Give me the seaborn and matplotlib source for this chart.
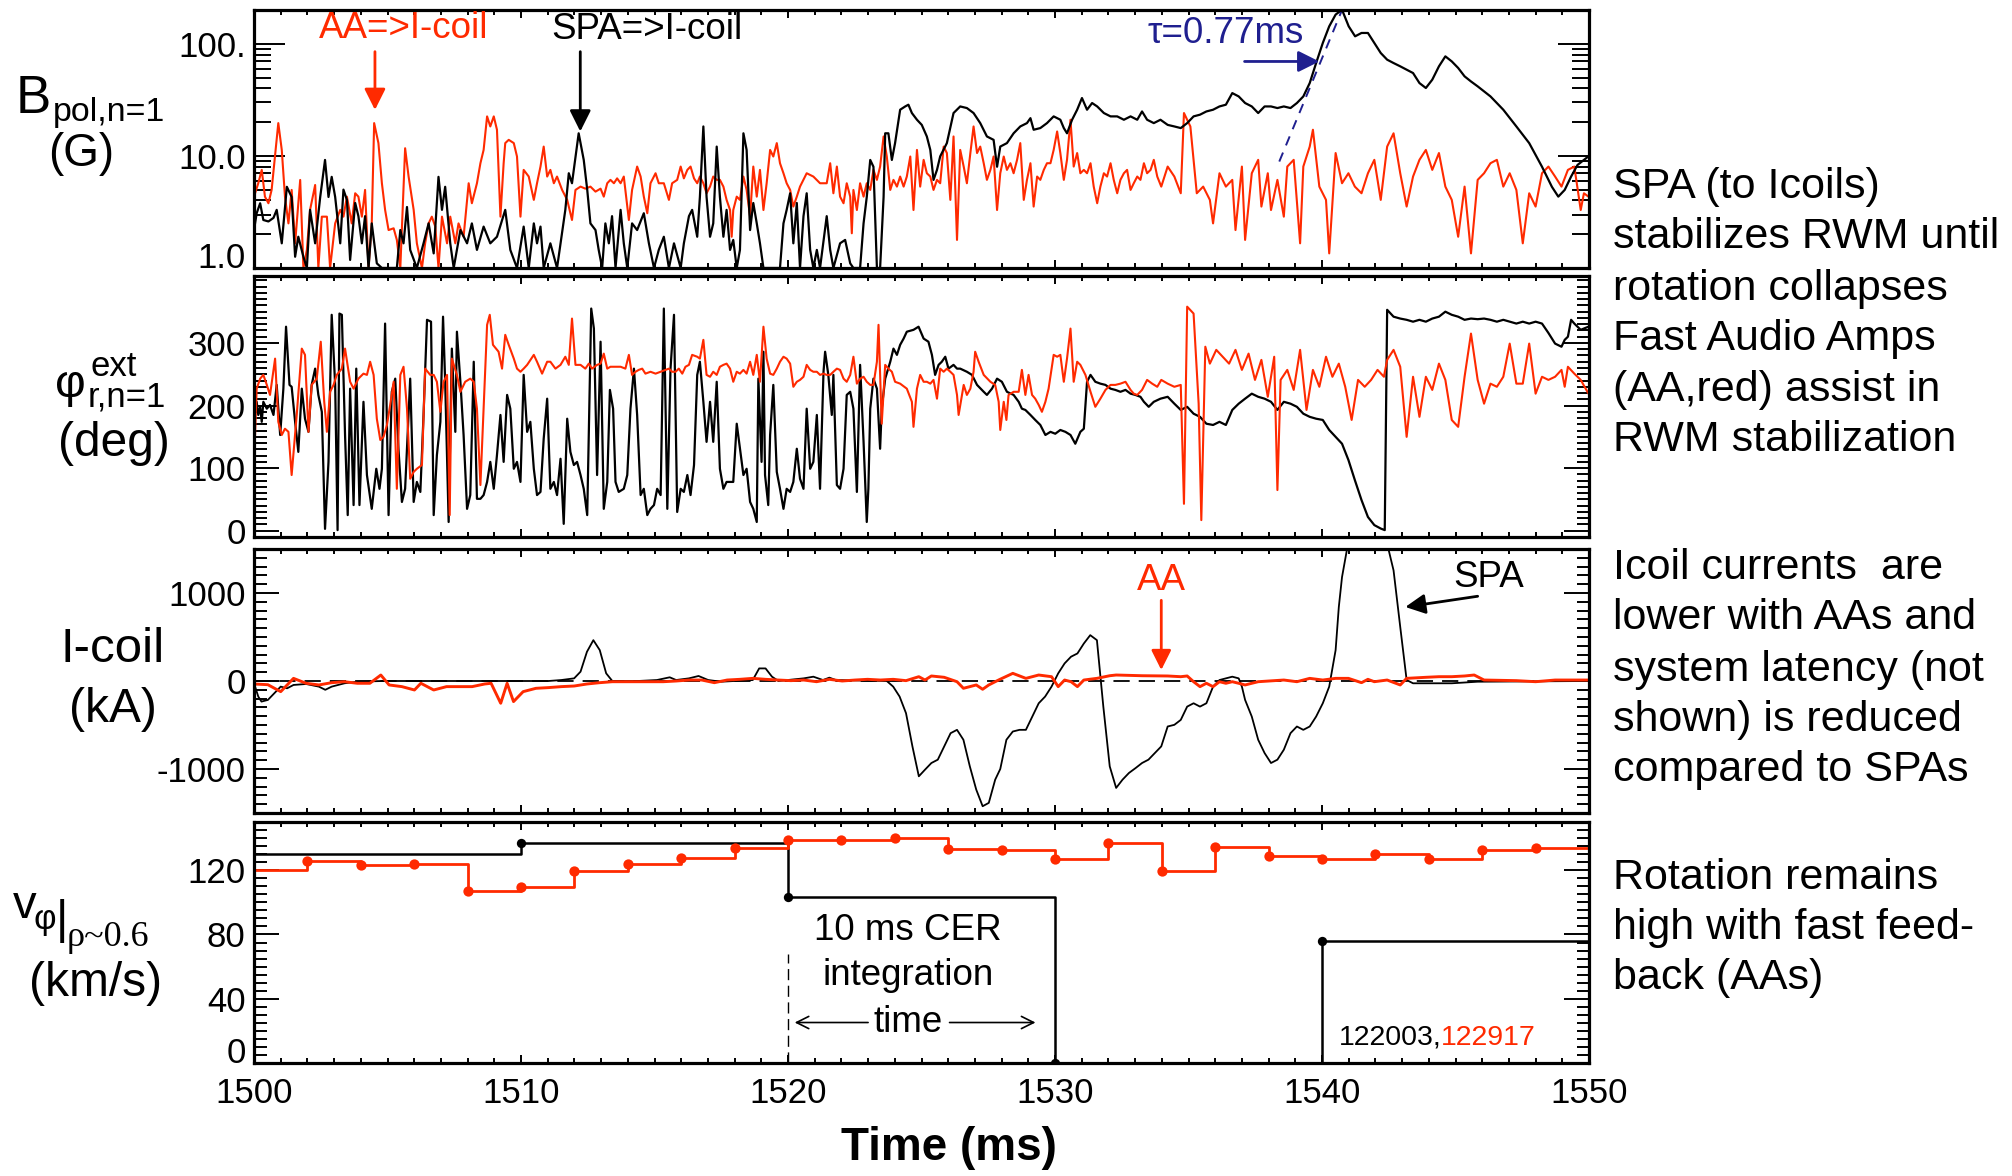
import numpy as np
import matplotlib
matplotlib.use("Agg")
import matplotlib.pyplot as plt
import seaborn as sns
from matplotlib import font_manager as fm
from matplotlib.ticker import MultipleLocator, FixedLocator, FixedFormatter, LogLocator, NullFormatter

# ---------------- data (time in ms) ----------------
BPOL_SPA = [
 (1500.00,2.18),(1500.10,3.08),(1500.23,3.78),(1500.35,2.68),(1500.54,2.6),(1500.73,2.8),(1500.85,3.3),
 (1501.04,1.66),(1501.23,5.3),(1501.41,4.3),(1501.54,1.26),(1501.66,1.9),(1501.85,1.26),(1501.98,1.0),
 (1502.10,3.3),(1502.29,1.66),(1502.48,4.3),(1502.66,9.2),(1502.79,4.3),(1502.91,6.5),(1503.04,4.3),
 (1503.23,1.66),(1503.35,5.0),(1503.48,4.05),(1503.60,1.18),(1503.79,3.8),(1503.91,2.9),(1504.04,1.66),
 (1504.16,2.9),(1504.29,1.0),(1504.41,2.5),(1504.60,1.1),(1504.79,1.0),(1505.35,1.0),(1505.48,2.18),
 (1505.60,1.66),(1505.73,3.5),(1505.85,1.45),(1506.10,1.0),(1506.35,1.66),(1506.54,2.5),(1506.73,1.35),
 (1506.91,6.5),(1507.04,3.3),(1507.16,5.3),(1507.35,1.66),(1507.48,1.0),(1507.73,2.18),(1507.98,1.66),
 (1508.16,2.5),(1508.35,1.45),(1508.60,2.34),(1508.85,1.66),(1509.10,1.9),(1509.41,3.3),(1509.60,1.45),
 (1509.85,1.0),(1510.10,2.34),(1510.29,1.0),(1510.48,2.5),(1510.60,1.66),(1510.73,2.34),(1510.85,1.0),
 (1511.10,1.66),(1511.35,1.0),(1511.66,3.3),(1511.79,7.0),(1511.91,5.7),(1512.16,15.9),(1512.35,9.2),
 (1512.48,5.0),(1512.60,2.5),(1512.79,2.18),(1512.91,1.45),(1513.04,1.0),(1513.16,2.5),(1513.29,1.66),
 (1513.41,2.9),(1513.54,1.0),(1513.73,3.3),(1513.85,1.66),(1513.98,1.0),(1514.16,2.5),(1514.35,2.18),
 (1514.60,3.08),(1514.79,1.66),(1514.98,1.0),(1515.16,1.45),(1515.35,1.9),(1515.54,1.0),(1515.73,1.66),
 (1515.98,1.0),(1516.10,1.66),(1516.29,2.9),(1516.41,3.3),(1516.60,1.9),(1516.70,4.3),(1516.83,18.3),
 (1516.95,4.3),(1517.08,1.9),(1517.20,2.5),(1517.33,12.1),(1517.45,4.3),(1517.58,1.9),(1517.70,3.3),
 (1517.83,1.45),(1517.95,1.78),(1518.08,1.0),(1518.20,1.45),(1518.33,15.9),(1518.45,11.3),(1518.58,2.18),
 (1518.70,3.8),(1518.83,2.5),(1518.95,1.66),(1519.08,1.0),(1519.70,1.0),(1519.83,2.5),(1519.95,3.3),
 (1520.08,4.64),(1520.20,1.66),(1520.33,3.8),(1520.45,1.0),(1520.58,2.9),(1520.70,4.64),(1520.83,1.45),
 (1520.95,1.0),(1521.08,1.45),(1521.20,1.0),(1521.45,2.9),(1521.58,1.45),(1521.70,1.0),(1521.95,1.66),
 (1522.14,1.78),(1522.33,1.1),(1522.45,1.0),(1522.70,1.0),(1522.83,2.5),(1522.95,4.3),(1523.08,9.2),
 (1523.20,8.0),(1523.33,1.0),(1523.45,1.0),(1523.58,4.3),(1523.64,15.9),(1523.76,15.9),(1523.89,9.2),
 (1524.01,13.0),(1524.20,25.8),(1524.39,27.6),(1524.51,28.6),(1524.64,24.1),(1524.83,21.0),(1525.01,18.9),
 (1525.20,14.9),(1525.33,11.3),(1525.45,6.1),(1525.58,7.5),(1525.70,9.9),(1525.95,13.0),(1526.20,24.1),
 (1526.45,27.6),(1526.70,26.7),(1526.95,24.1),(1527.20,19.6),(1527.45,14.9),(1527.70,13.9),(1527.83,8.0),
 (1527.95,12.1),(1528.20,13.0),(1528.45,15.9),(1528.70,18.3),(1528.95,19.6),(1529.08,21.7),(1529.20,17.1),
 (1529.45,17.7),(1529.70,19.6),(1529.95,22.5),(1530.20,21.0),(1530.33,17.7),(1530.45,15.9),(1530.64,21.0),
 (1530.83,25.8),(1531.01,32.8),(1531.20,25.8),(1531.39,29.6),(1531.58,27.6),(1531.83,24.1),(1532.08,22.5),
 (1532.33,22.5),(1532.58,21.0),(1532.83,22.5),(1533.08,21.0),(1533.26,24.9),(1533.45,21.0),(1533.70,19.6),
 (1533.95,21.0),(1534.22,18.9),(1534.47,18.3),(1534.71,17.7),(1534.95,19.6),(1535.19,22.5),(1535.43,23.3),
 (1535.67,24.9),(1535.92,25.8),(1536.16,27.6),(1536.40,28.6),(1536.64,36.3),(1536.88,33.9),(1537.12,29.6),
 (1537.37,27.6),(1537.61,24.1),(1537.85,27.6),(1538.09,27.6),(1538.33,26.7),(1538.57,27.6),(1538.82,26.7),
 (1539.06,29.6),(1539.30,33.9),(1539.54,44.6),(1539.78,67.3),(1540.03,101.6),(1540.27,143.0),(1540.51,182.0),
 (1540.75,201.0),(1541.00,143.0),(1541.24,116.5),(1541.48,124.8),(1541.72,124.8),(1541.96,101.6),(1542.20,82.7),
 (1542.44,72.1),(1542.68,67.3),(1542.93,62.9),(1543.17,58.7),(1543.41,54.8),(1543.65,44.6),(1543.89,40.3),
 (1544.13,47.8),(1544.38,62.9),(1544.62,77.2),(1544.86,69.6),(1545.10,60.8),(1545.34,51.2),(1545.58,46.1),
 (1545.83,41.7),(1546.31,33.9),(1546.79,25.8),(1547.28,18.3),(1547.76,13.0),(1548.24,8.0),(1548.61,5.3),
 (1548.85,4.33),(1549.09,4.97),(1549.33,6.54),(1549.57,8.3),(1549.81,9.2),(1549.98,9.9),
]

BPOL_AA = [
 (1500.00,4.33),(1500.16,5.7),(1500.29,7.5),(1500.41,4.33),(1500.54,3.78),(1500.66,4.97),(1500.91,19.6),
 (1501.04,11.3),(1501.16,4.33),(1501.29,2.5),(1501.41,4.97),(1501.54,1.66),(1501.73,6.1),(1501.85,1.0),
 (1501.98,1.45),(1502.10,3.3),(1502.29,5.5),(1502.41,1.0),(1502.54,2.87),(1502.73,2.87),(1502.85,1.0),
 (1503.04,2.5),(1503.23,3.3),(1503.35,2.87),(1503.48,4.33),(1503.66,2.5),(1503.79,4.64),(1503.91,4.33),
 (1504.04,2.87),(1504.16,4.97),(1504.29,1.0),(1504.41,2.5),(1504.50,19.6),(1504.66,13.0),(1504.79,5.7),
 (1504.91,3.3),(1505.04,2.18),(1505.23,2.26),(1505.35,1.78),(1505.48,1.0),(1505.66,11.7),(1505.79,6.54),
 (1505.98,3.3),(1506.10,1.66),(1506.29,1.0),(1506.41,1.66),(1506.54,2.5),(1506.66,2.87),(1506.79,2.34),
 (1506.91,1.0),(1507.04,2.87),(1507.23,1.66),(1507.35,2.87),(1507.54,1.66),(1507.66,2.5),(1507.85,1.9),
 (1508.04,5.7),(1508.16,3.78),(1508.35,5.7),(1508.48,8.6),(1508.60,11.3),(1508.73,22.5),(1508.85,18.3),
 (1508.98,22.5),(1509.10,17.1),(1509.23,2.87),(1509.35,8.6),(1509.41,13.0),(1509.54,13.9),(1509.73,13.0),
 (1509.85,9.87),(1509.98,2.87),(1510.10,7.5),(1510.29,6.54),(1510.48,4.05),(1510.60,5.7),(1510.73,8.03),
 (1510.85,12.1),(1510.98,6.54),(1511.10,7.5),(1511.23,5.7),(1511.35,6.54),(1511.54,4.97),(1511.73,4.05),
 (1511.91,2.68),(1512.04,4.97),(1512.23,5.32),(1512.41,5.1),(1512.60,5.32),(1512.79,4.8),(1512.98,5.1),
 (1513.10,4.33),(1513.23,5.7),(1513.35,6.11),(1513.48,5.7),(1513.60,6.3),(1513.73,5.7),(1513.85,6.54),
 (1514.04,2.68),(1514.16,4.97),(1514.35,8.03),(1514.48,6.54),(1514.60,4.33),(1514.73,3.08),(1514.85,5.7),
 (1515.04,7.0),(1515.16,5.7),(1515.35,5.7),(1515.54,4.05),(1515.66,5.7),(1515.85,6.11),(1515.98,8.03),
 (1516.10,6.3),(1516.23,7.5),(1516.35,8.03),(1516.48,6.3),(1516.60,5.7),(1516.70,6.54),(1516.83,5.7),
 (1516.95,4.64),(1517.08,5.32),(1517.20,6.54),(1517.33,6.11),(1517.45,6.11),(1517.58,5.32),(1517.70,4.05),
 (1517.83,3.29),(1517.89,1.9),(1517.95,3.29),(1518.08,4.33),(1518.20,4.05),(1518.33,6.54),(1518.45,4.97),
 (1518.58,2.87),(1518.70,8.03),(1518.83,4.33),(1518.95,7.5),(1519.08,3.29),(1519.20,5.7),(1519.33,11.3),
 (1519.45,9.87),(1519.58,13.0),(1519.70,8.6),(1519.83,7.0),(1519.95,5.7),(1520.08,4.97),(1520.20,3.53),
 (1520.33,4.33),(1520.45,5.32),(1520.70,7.0),(1520.95,6.54),(1521.20,5.7),(1521.45,5.7),(1521.58,8.6),
 (1521.70,4.64),(1521.83,8.03),(1521.95,4.33),(1522.08,3.78),(1522.20,5.7),(1522.33,4.33),(1522.39,2.04),
 (1522.45,4.97),(1522.58,3.29),(1522.70,5.7),(1522.83,4.33),(1522.95,5.7),(1523.08,4.97),(1523.20,7.5),
 (1523.33,6.11),(1523.45,8.03),(1523.58,14.9),(1523.70,9.87),(1523.83,4.97),(1523.95,6.11),(1524.08,5.32),
 (1524.20,6.54),(1524.33,5.32),(1524.45,6.54),(1524.58,9.87),(1524.70,3.29),(1524.83,11.3),(1524.95,5.32),
 (1525.08,9.22),(1525.20,7.0),(1525.33,6.54),(1525.45,4.97),(1525.58,6.11),(1525.70,5.7),(1525.83,12.1),
 (1525.95,10.6),(1526.08,4.05),(1526.20,14.9),(1526.33,1.78),(1526.45,11.3),(1526.58,8.03),(1526.70,5.7),
 (1526.83,10.6),(1526.95,18.3),(1527.08,10.6),(1527.20,12.1),(1527.33,8.6),(1527.45,6.11),(1527.58,7.5),
 (1527.70,9.87),(1527.83,3.29),(1527.95,7.0),(1528.08,9.87),(1528.20,7.5),(1528.33,8.6),(1528.45,7.0),
 (1528.58,9.22),(1528.70,13.0),(1528.83,4.05),(1528.95,6.11),(1529.08,8.6),(1529.20,3.53),(1529.33,6.54),
 (1529.45,6.11),(1529.58,7.5),(1529.70,8.6),(1529.83,8.6),(1529.95,11.3),(1530.08,16.5),(1530.20,10.6),
 (1530.33,6.11),(1530.45,9.22),(1530.58,21.0),(1530.70,8.03),(1530.83,10.6),(1530.95,7.0),(1531.08,7.5),
 (1531.20,7.0),(1531.33,8.6),(1531.45,5.32),(1531.58,3.78),(1531.70,5.32),(1531.83,7.0),(1531.95,6.54),
 (1532.08,8.6),(1532.20,6.11),(1532.33,4.64),(1532.45,6.11),(1532.58,7.0),(1532.70,7.5),(1532.83,4.97),
 (1532.95,5.7),(1533.08,6.54),(1533.20,6.11),(1533.33,8.6),(1533.45,7.0),(1533.58,7.5),(1533.70,9.22),
 (1533.83,6.54),(1533.98,5.32),(1534.22,8.03),(1534.47,6.54),(1534.71,4.64),(1534.83,24.1),(1535.07,18.3),
 (1535.31,4.64),(1535.55,5.32),(1535.80,4.05),(1535.92,2.5),(1536.16,7.0),(1536.40,5.32),(1536.64,6.11),
 (1536.76,2.18),(1537.00,8.03),(1537.12,1.78),(1537.37,7.0),(1537.61,9.22),(1537.73,3.53),(1537.97,7.0),
 (1538.09,3.29),(1538.33,6.11),(1538.57,2.87),(1538.70,8.03),(1538.94,9.22),(1539.18,1.66),(1539.30,8.03),
 (1539.54,12.1),(1539.66,17.1),(1539.90,5.32),(1540.15,4.05),(1540.27,1.35),(1540.51,10.6),(1540.75,5.7),
 (1540.99,7.0),(1541.23,5.32),(1541.48,4.64),(1541.72,7.0),(1541.96,9.22),(1542.20,4.05),(1542.44,12.1),
 (1542.68,15.9),(1542.93,7.0),(1543.17,3.53),(1543.41,6.54),(1543.65,9.22),(1543.89,11.3),(1544.13,7.5),
 (1544.38,10.6),(1544.62,5.32),(1544.86,4.05),(1545.10,1.9),(1545.34,5.32),(1545.58,1.35),(1545.83,6.11),
 (1546.07,7.0),(1546.31,8.6),(1546.55,9.22),(1546.79,5.32),(1547.03,7.0),(1547.28,4.97),(1547.52,1.66),
 (1547.76,4.64),(1548.00,3.53),(1548.24,7.0),(1548.48,8.03),(1548.73,6.54),(1548.97,5.32),(1549.21,7.5),
 (1549.45,8.03),(1549.69,3.29),(1549.81,4.64),(1549.98,4.33),
]

PHI_SPA = [
 (1500.00,195),(1500.10,206),(1500.16,185),(1500.23,198),(1500.29,174),(1500.35,206),(1500.48,195),
 (1500.60,201),(1500.73,185),(1500.85,233),(1500.98,153),(1501.10,227),(1501.20,326),(1501.33,233),
 (1501.41,230),(1501.54,174),(1501.66,126),(1501.79,227),(1501.91,179),(1502.04,158),(1502.16,233),
 (1502.29,259),(1502.41,217),(1502.54,190),(1502.66,3),(1502.79,110),(1502.91,345),(1503.04,233),
 (1503.13,1),(1503.20,347),(1503.29,345),(1503.41,153),(1503.51,25),(1503.60,227),(1503.73,41),
 (1503.83,259),(1503.95,41),(1504.10,206),(1504.23,89),(1504.41,35),(1504.58,99),(1504.70,67),
 (1504.79,99),(1504.91,331),(1505.04,25),(1505.16,222),(1505.29,243),(1505.41,131),(1505.54,46),
 (1505.66,67),(1505.85,243),(1505.98,46),(1506.10,78),(1506.23,62),(1506.35,185),(1506.48,337),
 (1506.63,334),(1506.73,25),(1506.85,121),(1506.98,174),(1507.08,342),(1507.16,238),(1507.29,14),
 (1507.41,291),(1507.54,158),(1507.60,318),(1507.73,238),(1507.85,153),(1507.98,35),(1508.10,57),
 (1508.23,270),(1508.35,51),(1508.48,51),(1508.60,57),(1508.73,78),(1508.85,110),(1508.98,67),
 (1509.10,121),(1509.23,185),(1509.35,110),(1509.48,217),(1509.60,195),(1509.73,99),(1509.85,110),
 (1509.98,78),(1510.10,249),(1510.23,158),(1510.35,174),(1510.48,99),(1510.60,57),(1510.73,62),
 (1510.85,147),(1510.98,211),(1511.10,67),(1511.23,78),(1511.35,57),(1511.48,115),(1511.60,11),
 (1511.73,179),(1511.85,126),(1511.98,105),(1512.10,110),(1512.23,89),(1512.35,67),(1512.48,25),
 (1512.63,355),(1512.73,323),(1512.85,89),(1512.98,302),(1513.10,35),(1513.23,78),(1513.33,225),
 (1513.45,195),(1513.54,78),(1513.66,62),(1513.85,67),(1513.98,89),(1514.10,195),(1514.23,259),
 (1514.35,185),(1514.48,57),(1514.60,67),(1514.73,25),(1514.85,35),(1514.98,41),(1515.10,67),
 (1515.23,57),(1515.35,355),(1515.48,35),(1515.60,259),(1515.73,345),(1515.85,30),(1515.98,67),
 (1516.10,62),(1516.23,89),(1516.35,57),(1516.48,105),(1516.60,249),(1516.70,270),(1516.83,206),
 (1516.95,142),(1517.08,206),(1517.20,142),(1517.33,238),(1517.45,99),(1517.58,67),(1517.70,78),
 (1517.95,78),(1518.08,171),(1518.20,131),(1518.33,89),(1518.45,99),(1518.58,46),(1518.70,35),
 (1518.83,14),(1518.89,243),(1519.01,110),(1519.08,286),(1519.14,89),(1519.26,41),(1519.33,153),
 (1519.45,233),(1519.58,94),(1519.70,67),(1519.83,35),(1519.95,67),(1520.08,62),(1520.20,78),
 (1520.33,131),(1520.45,83),(1520.58,67),(1520.70,195),(1520.83,99),(1520.95,110),(1521.08,185),
 (1521.20,67),(1521.33,254),(1521.39,286),(1521.51,249),(1521.64,185),(1521.70,249),(1521.83,73),
 (1521.95,67),(1522.08,99),(1522.20,217),(1522.33,222),(1522.45,195),(1522.58,62),(1522.70,265),
 (1522.83,142),(1522.95,14),(1523.01,67),(1523.08,195),(1523.20,243),(1523.33,227),(1523.45,131),
 (1523.51,195),(1523.64,243),(1523.83,270),(1523.95,291),(1524.08,281),(1524.20,297),(1524.33,307),
 (1524.45,318),(1524.70,321),(1524.89,326),(1525.08,307),(1525.26,302),(1525.39,281),(1525.51,249),
 (1525.64,265),(1525.76,270),(1525.89,278),(1526.01,259),(1526.20,265),(1526.33,259),(1526.45,259),
 (1526.70,254),(1526.89,249),(1527.08,233),(1527.33,222),(1527.45,217),(1527.64,227),(1527.83,243),
 (1528.01,238),(1528.20,222),(1528.45,217),(1528.64,206),(1528.76,195),(1528.89,193),(1529.08,185),
 (1529.26,177),(1529.45,169),(1529.64,153),(1529.83,158),(1530.01,155),(1530.20,161),(1530.39,158),
 (1530.58,153),(1530.76,139),(1530.95,158),(1531.08,163),(1531.20,238),(1531.33,249),(1531.51,238),
 (1531.70,235),(1531.89,233),(1532.08,227),(1532.26,225),(1532.45,222),(1532.64,225),(1532.83,219),
 (1533.01,217),(1533.20,214),(1533.33,206),(1533.51,198),(1533.70,206),(1533.95,211),(1534.22,214),
 (1534.47,203),(1534.71,193),(1534.95,198),(1535.19,187),(1535.43,182),(1535.67,171),(1535.92,169),
 (1536.16,174),(1536.40,169),(1536.64,193),(1536.88,203),(1537.12,211),(1537.37,219),(1537.61,214),
 (1537.85,211),(1538.09,206),(1538.33,193),(1538.57,206),(1538.82,203),(1539.06,198),(1539.30,187),
 (1539.54,182),(1539.78,179),(1540.03,177),(1540.27,161),(1540.51,150),(1540.75,139),(1540.99,113),
 (1541.23,81),(1541.48,49),(1541.72,22),(1541.96,9),(1542.20,3.5),(1542.35,1),(1542.44,353),
 (1542.68,342),(1542.93,339),(1543.17,337),(1543.41,334),(1543.65,337),(1543.89,334),(1544.13,339),
 (1544.38,342),(1544.62,350),(1544.86,345),(1545.10,342),(1545.34,337),(1545.58,339),(1545.83,338),
 (1546.07,339),(1546.31,337),(1546.55,334),(1546.79,337),(1547.03,334),(1547.28,331),(1547.52,334),
 (1547.76,331),(1548.00,334),(1548.24,331),(1548.48,316),(1548.73,299),(1548.97,294),(1549.09,305),
 (1549.21,310),(1549.33,337),(1549.45,331),(1549.69,321),(1549.98,326),
]

PHI_AA = [
 (1500.00,105),(1500.10,227),(1500.23,243),(1500.35,249),(1500.48,233),(1500.60,217),(1500.79,275),
 (1500.91,174),(1501.04,153),(1501.16,163),(1501.29,158),(1501.41,89),(1501.60,185),(1501.79,291),
 (1501.91,281),(1502.04,158),(1502.16,233),(1502.35,243),(1502.50,302),(1502.63,206),(1502.73,158),
 (1502.85,222),(1502.98,233),(1503.10,249),(1503.29,259),(1503.41,291),(1503.60,238),(1503.73,227),
 (1503.91,243),(1504.10,251),(1504.23,249),(1504.35,270),(1504.48,249),(1504.60,179),(1504.73,145),
 (1504.85,150),(1504.98,169),(1505.10,201),(1505.23,238),(1505.35,67),(1505.48,249),(1505.60,262),
 (1505.73,195),(1505.85,83),(1505.98,94),(1506.10,99),(1506.29,105),(1506.41,259),(1506.60,249),
 (1506.73,249),(1506.85,238),(1506.98,190),(1507.10,238),(1507.23,249),(1507.33,25),(1507.41,275),
 (1507.60,249),(1507.73,222),(1507.91,238),(1508.10,243),(1508.23,238),(1508.35,195),(1508.48,73),
 (1508.60,195),(1508.73,329),(1508.83,345),(1508.95,297),(1509.16,286),(1509.29,259),(1509.41,313),
 (1509.54,297),(1509.73,275),(1509.85,259),(1509.98,254),(1510.10,259),(1510.23,265),(1510.48,281),
 (1510.60,270),(1510.79,251),(1510.98,270),(1511.10,270),(1511.29,259),(1511.48,265),(1511.66,278),
 (1511.79,265),(1511.91,339),(1512.04,265),(1512.23,265),(1512.41,259),(1512.54,267),(1512.66,259),
 (1512.85,265),(1512.98,267),(1513.10,283),(1513.23,259),(1513.35,262),(1513.54,262),(1513.73,262),
 (1513.91,259),(1514.04,281),(1514.16,249),(1514.29,254),(1514.41,257),(1514.54,259),(1514.66,251),
 (1514.85,254),(1515.04,251),(1515.23,254),(1515.41,257),(1515.54,259),(1515.66,254),(1515.79,254),
 (1515.91,259),(1516.04,251),(1516.16,262),(1516.29,265),(1516.41,281),(1516.60,278),(1516.70,275),
 (1516.83,305),(1516.95,249),(1517.08,246),(1517.20,254),(1517.33,249),(1517.45,262),(1517.58,265),
 (1517.70,267),(1517.83,259),(1517.95,238),(1518.08,254),(1518.20,251),(1518.33,257),(1518.45,251),
 (1518.58,270),(1518.70,249),(1518.83,281),(1518.95,238),(1519.08,326),(1519.20,275),(1519.33,251),
 (1519.45,249),(1519.58,259),(1519.70,270),(1519.83,278),(1519.95,275),(1520.08,267),(1520.20,230),
 (1520.33,238),(1520.45,241),(1520.58,246),(1520.70,265),(1520.83,257),(1520.95,254),(1521.08,254),
 (1521.20,249),(1521.33,251),(1521.45,249),(1521.58,249),(1521.70,254),(1521.83,259),(1521.95,257),
 (1522.08,243),(1522.20,238),(1522.33,249),(1522.45,278),(1522.58,235),(1522.70,243),(1522.83,246),
 (1522.95,238),(1523.08,233),(1523.20,233),(1523.33,270),(1523.39,329),(1523.51,171),(1523.64,265),
 (1523.76,259),(1523.89,254),(1524.01,238),(1524.20,235),(1524.45,227),(1524.64,206),(1524.70,166),
 (1524.83,227),(1524.95,249),(1525.08,238),(1525.20,238),(1525.33,235),(1525.45,241),(1525.58,211),
 (1525.70,259),(1525.83,254),(1525.95,259),(1526.08,254),(1526.20,249),(1526.33,217),(1526.39,185),
 (1526.58,233),(1526.70,217),(1526.83,227),(1526.95,254),(1527.01,286),(1527.14,270),(1527.33,249),
 (1527.58,238),(1527.76,233),(1527.89,206),(1527.95,161),(1528.08,206),(1528.18,177),(1528.26,217),
 (1528.45,222),(1528.64,222),(1528.76,257),(1528.89,217),(1529.01,249),(1529.14,217),(1529.26,211),
 (1529.39,201),(1529.51,190),(1529.64,206),(1529.76,227),(1529.95,281),(1530.08,278),(1530.20,281),
 (1530.33,238),(1530.45,275),(1530.58,323),(1530.70,238),(1530.83,270),(1530.95,265),(1531.14,249),
 (1531.33,222),(1531.51,198),(1531.70,211),(1531.89,225),(1532.08,233),(1532.26,233),(1532.45,235),
 (1532.64,238),(1532.83,225),(1532.95,219),(1533.08,217),(1533.26,225),(1533.45,241),(1533.64,235),
 (1533.83,230),(1533.98,241),(1534.22,235),(1534.47,230),(1534.71,233),(1534.83,43),(1534.95,358),
 (1535.19,347),(1535.38,203),(1535.48,17),(1535.63,294),(1535.80,267),(1536.04,289),(1536.28,278),
 (1536.52,267),(1536.76,289),(1537.00,257),(1537.25,283),(1537.49,241),(1537.73,273),(1537.97,214),
 (1538.21,278),(1538.33,65),(1538.45,241),(1538.70,257),(1538.94,225),(1539.18,289),(1539.42,193),
 (1539.66,257),(1539.90,230),(1540.15,278),(1540.39,246),(1540.63,267),(1540.87,230),(1541.11,177),
 (1541.35,241),(1541.60,230),(1541.84,241),(1542.08,257),(1542.32,246),(1542.44,273),(1542.68,289),
 (1542.93,262),(1543.17,150),(1543.41,246),(1543.65,182),(1543.89,246),(1544.13,225),(1544.38,267),
 (1544.62,241),(1544.86,177),(1545.10,166),(1545.34,246),(1545.58,315),(1545.83,241),(1546.07,203),
 (1546.31,235),(1546.55,230),(1546.79,246),(1547.03,299),(1547.28,235),(1547.52,235),(1547.76,299),
 (1548.00,219),(1548.24,246),(1548.48,241),(1548.73,246),(1548.97,257),(1549.09,230),(1549.21,262),
 (1549.45,251),(1549.69,241),(1549.98,219),
]

ICOIL_SPA = [
 (1500.00,-26),(1500.16,-177),(1500.28,-234),(1500.52,-215),(1500.76,-140),(1501.00,-64),(1501.24,-83),
 (1501.48,-45),(1501.95,-34),(1502.43,-64),(1502.67,-100),(1502.91,-64),(1503.39,-26),(1503.87,-8),
 (1504.82,0),(1507.21,0),(1509.60,0),(1511.03,0),(1511.51,11),(1511.99,30),(1512.23,106),(1512.47,332),
 (1512.71,464),(1512.95,351),(1513.19,87),(1513.42,0),(1514.38,0),(1515.09,11),(1515.57,42),(1515.81,11),
 (1516.29,30),(1516.65,57),(1517.01,11),(1517.49,-8),(1518.68,11),(1518.92,143),(1519.16,143),(1519.40,49),
 (1519.64,0),(1520.59,30),(1520.95,49),(1521.31,11),(1521.55,38),(1521.79,11),(1523.70,0),(1523.94,-64),
 (1524.18,-177),(1524.42,-366),(1524.66,-743),(1524.90,-1083),(1525.13,-1008),(1525.37,-932),(1525.61,-894),
 (1525.85,-743),(1526.09,-593),(1526.33,-555),(1526.57,-668),(1526.81,-970),(1527.05,-1234),(1527.29,-1423),
 (1527.52,-1385),(1527.76,-1121),(1527.95,-1000),(1528.18,-668),(1528.42,-574),(1528.67,-555),(1528.91,-555),
 (1529.15,-404),(1529.39,-253),(1529.63,-177),(1529.87,-64),(1530.12,87),(1530.36,200),(1530.60,276),
 (1530.84,313),(1531.08,426),(1531.32,521),(1531.57,464),(1531.81,-291),(1532.05,-970),(1532.29,-1215),
 (1532.53,-1121),(1532.77,-1045),(1533.02,-989),(1533.26,-932),(1533.50,-894),(1533.74,-819),(1533.98,-743),
 (1534.22,-517),(1534.47,-498),(1534.71,-442),(1534.95,-291),(1535.19,-253),(1535.43,-291),(1535.67,-253),
 (1535.92,-64),(1536.16,11),(1536.40,30),(1536.64,49),(1536.88,30),(1537.00,-64),(1537.12,-215),
 (1537.37,-404),(1537.61,-668),(1537.85,-819),(1538.09,-932),(1538.33,-894),(1538.57,-781),(1538.82,-593),
 (1539.06,-517),(1539.30,-555),(1539.54,-517),(1539.78,-404),(1540.03,-253),(1540.27,-64),(1540.51,351),
 (1540.63,842),(1540.75,1181),(1540.95,1520),(1541.23,1560),(1541.48,1540),(1541.72,1560),(1541.96,1550),
 (1542.20,1530),(1542.44,1560),(1542.68,1257),(1542.93,615),(1543.17,11),(1543.41,-26),(1544.86,-26),
 (1545.83,-8),(1549.69,0),(1550.00,0),
]

ICOIL_AA = [
 (1500.00,-34),(1500.52,-42),(1501.00,-121),(1501.48,30),(1501.95,-26),(1502.43,-45),(1502.91,-19),
 (1503.39,-8),(1503.87,-26),(1504.34,-26),(1504.75,68),(1505.06,-45),(1505.54,-64),(1506.01,-102),
 (1506.25,-26),(1506.73,-102),(1507.21,-64),(1507.69,-64),(1508.17,-64),(1508.64,-34),(1508.88,-26),
 (1509.24,-253),(1509.48,-26),(1509.72,-234),(1510.08,-121),(1510.56,-83),(1511.03,-75),(1511.51,-64),
 (1511.99,-57),(1512.47,-34),(1512.95,-19),(1513.42,-8),(1514.38,-8),(1515.33,-8),(1515.81,0),
 (1516.29,11),(1516.77,11),(1517.24,-19),(1517.72,11),(1518.20,19),(1518.68,30),(1519.16,19),
 (1519.64,11),(1520.11,4),(1520.59,11),(1521.07,-8),(1521.55,19),(1522.03,0),(1522.51,11),(1522.98,19),
 (1523.46,11),(1523.94,19),(1524.42,4),(1524.90,49),(1525.13,11),(1525.37,57),(1525.85,42),(1526.33,-8),
 (1526.57,-83),(1526.81,-64),(1527.05,-45),(1527.29,-94),(1527.52,-45),(1527.76,-8),(1527.94,19),
 (1528.42,87),(1528.91,30),(1529.39,68),(1529.87,49),(1530.12,-64),(1530.36,11),(1530.60,-8),
 (1530.84,-64),(1531.08,11),(1531.57,30),(1532.05,60),(1532.29,68),(1533.26,60),(1534.22,57),
 (1534.71,49),(1534.95,57),(1535.19,-8),(1535.43,-64),(1535.67,-26),(1535.92,-64),(1536.16,-8),
 (1536.40,-26),(1536.64,-8),(1536.88,-26),(1537.12,-45),(1537.37,-26),(1537.61,-8),(1538.57,11),
 (1539.06,-8),(1539.54,30),(1540.03,11),(1540.51,30),(1540.99,30),(1541.48,-19),(1541.72,19),
 (1541.96,-8),(1542.44,11),(1542.93,-45),(1543.17,30),(1543.89,42),(1544.38,49),(1544.86,49),
 (1545.34,57),(1545.70,68),(1546.07,11),(1547.28,4),(1548.00,-8),(1548.73,11),(1549.98,11),
]

VROT_SPA_T = [1500, 1510, 1520, 1530, 1540, 1550]
VROT_SPA_V = [130.0, 136.7, 103.3, 0.0, 76.0, 76.0]
VROT_AA_T = [1500, 1502, 1504, 1506, 1508, 1510, 1512, 1514, 1516, 1518, 1520, 1522, 1524,
             1526, 1528, 1530, 1532, 1534, 1536, 1538, 1540, 1542, 1544, 1546, 1548, 1550]
VROT_AA_V = [120.0, 125.8, 123.1, 123.7, 107.0, 109.6, 119.4, 123.7, 127.7, 134.0, 139.0, 139.0, 139.8,
             133.0, 132.5, 126.7, 136.7, 119.4, 134.6, 128.7, 126.7, 130.0, 127.0, 132.5, 134.0, 134.0]

TAU_FIT_T = [1538.4, 1540.75]
TAU_FIT_V = [8.9, 200.0]

X_TICKS = [1500, 1510, 1520, 1530, 1540, 1550]
BPOL_TICKS = [1, 10, 100]
BPOL_TICK_LABELS = ["1.0", "10.0", "100."]

RIGHT_NOTES = [
    ("SPA (to Icoils)", 187), ("stabilizes RWM until", 237), ("rotation collapses", 289),
    ("Fast Audio Amps", 339), ("(AA,red) assist in", 390), ("RWM stabilization", 440),
    ("Icoil currents  are", 568), ("lower with AAs and", 618), ("system latency (not", 670),
    ("shown) is reduced", 720), ("compared to SPAs", 770),
    ("Rotation remains", 878), ("high with fast feed-", 928), ("back (AAs)", 978),
]

# ---------------- style ----------------
def pick(names):
    for n in names:
        try:
            fm.findfont(fm.FontProperties(family=n), fallback_to_default=False)
            return n
        except Exception:
            pass
    return "DejaVu Sans"

sns.set_theme(style="ticks")
SANS = pick(["Liberation Sans", "Arial", "DejaVu Sans"])
SERIF = pick(["Liberation Serif", "DejaVu Serif"])
plt.rcParams["font.family"] = [SANS, "DejaVu Sans"]
plt.rcParams["axes.unicode_minus"] = False
plt.rcParams["text.color"] = "black"

RED = "#ff2a00"
NAVY = "#1f1f8f"
W, H = 2012, 1176
ANN = 26.5

fig = plt.figure(figsize=(W / 100, H / 100), dpi=100)
fig.patch.set_facecolor("white")

def add_panel(top_px, bottom_px):
    return fig.add_axes([254 / W, 1 - bottom_px / H, (1589 - 254) / W, (bottom_px - top_px) / H])

ax1 = add_panel(10, 268)
ax2 = add_panel(276, 537)
ax3 = add_panel(549, 813)
ax4 = add_panel(822, 1063)

def style(ax, last=False):
    ax.set_facecolor("white")
    ax.set_xlim(1500, 1550)
    ax.xaxis.set_major_locator(FixedLocator(X_TICKS))
    ax.xaxis.set_minor_locator(MultipleLocator(1))
    ax.tick_params(which="both", direction="in", top=True, right=True, bottom=True, left=True,
                   width=1.4, color="black", labelsize=25, labelcolor="black")
    ax.tick_params(axis="x", which="major", length=6, pad=10)
    ax.tick_params(axis="x", which="minor", length=3.5)
    ax.tick_params(axis="y", which="major", length=18, pad=6)
    ax.tick_params(axis="y", which="minor", length=9)
    ax.tick_params(labelbottom=last)
    for s in ax.spines.values():
        s.set_visible(True)
        s.set_linewidth(2.3)
        s.set_color("black")
    ax.set_xlabel("")
    ax.set_ylabel("")

def arr(data):
    a = np.array(data, dtype=float)
    return a[:, 0], a[:, 1]

# ---- panel 1 : Bpol ----
ax1.set_yscale("log")
t, v = arr(BPOL_AA)
sns.lineplot(x=t, y=v, ax=ax1, color=RED, lw=1.5, sort=False, estimator=None)
t, v = arr(BPOL_SPA)
sns.lineplot(x=t, y=v, ax=ax1, color="black", lw=1.6, sort=False, estimator=None)
sns.lineplot(x=TAU_FIT_T, y=TAU_FIT_V, ax=ax1, color=NAVY, lw=1.4, sort=False, estimator=None,
             dashes=False, linestyle=(0, (5, 4)))
style(ax1)
ax1.set_ylim(1, 200)
ax1.yaxis.set_major_locator(FixedLocator(BPOL_TICKS))
ax1.yaxis.set_major_formatter(FixedFormatter(BPOL_TICK_LABELS))
ax1.yaxis.set_minor_locator(LogLocator(base=10, subs=np.arange(2, 10)))
ax1.yaxis.set_minor_formatter(NullFormatter())
ax1.tick_params(axis="y", which="minor", length=12)
ax1.tick_params(axis="y", which="major", length=22)

ax1.text(1505.6, 138, "AA=>I-coil", color=RED, fontsize=ANN, ha="center", va="center")
ax1.annotate("", xy=(1504.53, 25.7), xytext=(1504.53, 85),
             arrowprops=dict(arrowstyle="-|>", color=RED, lw=2, mutation_scale=32, shrinkA=0, shrinkB=0))
ax1.text(1514.7, 133, "SPA=>I-coil", color="black", fontsize=ANN, ha="center", va="center")
ax1.annotate("", xy=(1512.22, 16.5), xytext=(1512.22, 85),
             arrowprops=dict(arrowstyle="-|>", color="black", lw=2, mutation_scale=32, shrinkA=0, shrinkB=0))
ax1.text(1536.4, 124, "τ=0.77ms", color=NAVY, fontsize=ANN, ha="center", va="center")
ax1.annotate("", xy=(1539.9, 69.5), xytext=(1537.1, 69.5),
             arrowprops=dict(arrowstyle="-|>", color=NAVY, lw=2, mutation_scale=32, shrinkA=0, shrinkB=0))

# ---- panel 2 : phase ----
t, v = arr(PHI_SPA)
sns.lineplot(x=t, y=v, ax=ax2, color="black", lw=1.6, sort=False, estimator=None)
t, v = arr(PHI_AA)
sns.lineplot(x=t, y=v, ax=ax2, color=RED, lw=1.5, sort=False, estimator=None)
style(ax2)
ax2.set_ylim(-10, 407)
ax2.yaxis.set_major_locator(FixedLocator([0, 100, 200, 300]))
ax2.yaxis.set_minor_locator(MultipleLocator(10))

# ---- panel 3 : I-coil ----
ax3.axhline(0, color="black", lw=1.3, linestyle=(0, (9, 5)), zorder=1)
t, v = arr(ICOIL_SPA)
sns.lineplot(x=t, y=v, ax=ax3, color="black", lw=1.3, sort=False, estimator=None)
t, v = arr(ICOIL_AA)
sns.lineplot(x=t, y=v, ax=ax3, color=RED, lw=2.1, sort=False, estimator=None)
style(ax3)
ax3.set_ylim(-1500, 1500)
ax3.yaxis.set_major_locator(FixedLocator([-1000, 0, 1000]))
ax3.yaxis.set_minor_locator(MultipleLocator(100))
ax3.text(1534.0, 1144, "AA", color=RED, fontsize=ANN, ha="center", va="center")
ax3.annotate("", xy=(1533.98, 125), xytext=(1533.98, 917),
             arrowprops=dict(arrowstyle="-|>", color=RED, lw=2, mutation_scale=30, shrinkA=0, shrinkB=0))
ax3.text(1546.25, 1181, "SPA", color="black", fontsize=ANN, ha="center", va="center")
ax3.annotate("", xy=(1543.12, 841), xytext=(1545.83, 963),
             arrowprops=dict(arrowstyle="-|>", color="black", lw=2, mutation_scale=30, shrinkA=0, shrinkB=0))

# ---- panel 4 : rotation ----
sns.lineplot(x=VROT_SPA_T, y=VROT_SPA_V, ax=ax4, color="black", lw=1.8, sort=False, estimator=None,
             drawstyle="steps-post")
sns.scatterplot(x=VROT_SPA_T[1:5], y=VROT_SPA_V[1:5], ax=ax4, color="black", s=45, linewidth=0, zorder=5)
sns.lineplot(x=VROT_AA_T, y=VROT_AA_V, ax=ax4, color=RED, lw=2.0, sort=False, estimator=None,
             drawstyle="steps-post")
sns.scatterplot(x=VROT_AA_T[1:-1], y=VROT_AA_V[1:-1], ax=ax4, color=RED, s=55, linewidth=0, zorder=5)
style(ax4, last=True)
ax4.set_ylim(0, 150)
ax4.yaxis.set_major_locator(FixedLocator([0, 40, 80, 120]))
ax4.yaxis.set_minor_locator(MultipleLocator(5))
ax4.xaxis.set_major_formatter(FixedFormatter([str(x) for x in X_TICKS]))
ax4.plot([1520, 1520], [0, 68], color="black", lw=1.0, linestyle=(0, (8, 4)))
ax4.text(1524.5, 82.5, "10 ms CER", fontsize=ANN, ha="center", va="center")
ax4.text(1524.5, 54.4, "integration", fontsize=ANN, ha="center", va="center")
ax4.text(1524.5, 25.5, "time", fontsize=ANN, ha="center", va="center")
ax4.annotate("", xy=(1520.25, 25.2), xytext=(1523.0, 25.2),
             arrowprops=dict(arrowstyle="->", color="black", lw=1.2, mutation_scale=22, shrinkA=0, shrinkB=0))
ax4.annotate("", xy=(1529.27, 25.2), xytext=(1526.05, 25.2),
             arrowprops=dict(arrowstyle="->", color="black", lw=1.2, mutation_scale=22, shrinkA=0, shrinkB=0))
ax4.text(1540.62, 15.8, "122003,", fontsize=20.5, ha="left", va="center", color="black")
ax4.text(1544.45, 15.8, "122917", fontsize=20.5, ha="left", va="center", color=RED)

# bottom y tick labels sit slightly above the axis bottom (as in the original)
for ax in (ax1, ax4):
    ax.yaxis.get_major_ticks()[0].label1.set_verticalalignment("baseline")

# ---------------- labels (figure coords, px from top-left) ----------------
def ftext(x, y, s, **kw):
    fig.text(x / W, 1 - y / H, s, **kw)

LAB = 34.5
# B_pol,n=1 (G)
ftext(33, 99, "B", fontsize=38, ha="center", va="center")
ftext(53, 113, "pol,n=1", fontsize=24.5, ha="left", va="center")
ftext(81, 154, "(G)", fontsize=33, ha="center", va="center")
# phi^ext_r,n=1 (deg)
ftext(70, 385, "φ", fontsize=34, ha="center", va="center")
ftext(90, 366, "ext", fontsize=25, ha="left", va="center")
ftext(88, 397, "r,n=1", fontsize=25, ha="left", va="center")
ftext(114, 444, "(deg)", fontsize=LAB, ha="center", va="center")
# I-coil (kA)
ftext(113, 650, "I-coil", fontsize=LAB + 1, ha="center", va="center")
ftext(113, 710, "(kA)", fontsize=LAB, ha="center", va="center")
# v_phi|rho~0.6 (km/s)
ftext(25, 906, "v", fontsize=34, ha="center", va="center")
ftext(45, 920, "φ", fontsize=25, ha="center", va="center")
ftext(62, 921, "|", fontsize=34, ha="center", va="center")
ftext(67, 938, "ρ~0.6", fontsize=26, ha="left", va="center", family=[SERIF, "DejaVu Serif"])
ftext(96, 984, "(km/s)", fontsize=LAB, ha="center", va="center")

ftext(949, 1148, "Time (ms)", fontsize=33, fontweight="bold", ha="center", va="center")

for line, y in RIGHT_NOTES:
    ftext(1613, y, line, fontsize=31, ha="left", va="center")

fig.savefig("out.png", dpi=100, facecolor="white")
